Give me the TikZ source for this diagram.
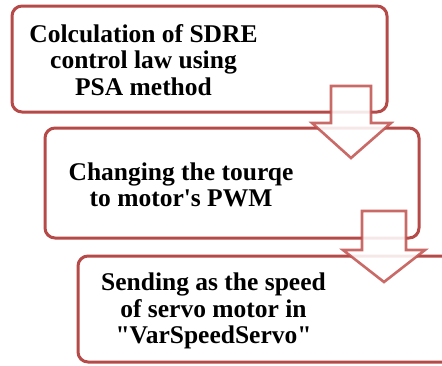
\documentclass[tikz,border=0pt]{standalone}
\usepackage{fontspec}
\setmainfont{Liberation Serif}
\begin{document}
\begin{tikzpicture}[x=1pt,y=-1pt,
  stepbox/.style={draw=boxred, line width=3pt, rounded corners=10pt, fill=white},
  steptext/.style={font=\fontsize{25.5}{26.2}\selectfont\bfseries, align=center, inner sep=0pt},
  flowarrow/.style={draw=arrowred, draw opacity=0.85, line width=2.6pt, fill=white, fill opacity=0.88, line join=miter}]
\definecolor{boxred}{HTML}{B64A48}
\definecolor{arrowred}{HTML}{C0504D}
\useasboundingbox (0,0) rectangle (442,365);

% the three process steps
\draw[stepbox] (12,6) rectangle (387,112);
\node[steptext] (t1) at (143.5,60) {Colculation of SDRE\\control law using\\PSA method};

\draw[stepbox] (45,128) rectangle (419,238);
\node[steptext] (t2) at (181,185) {Changing the tourqe\\to motor\textquotesingle s PWM};

\draw[stepbox] (78,256) rectangle (470,362);
\node[steptext] (t3) at (213.5,311) {Sending as the speed\\of servo motor in\\\textquotedbl VarSpeedServo\textquotedbl};

% block arrows between the steps
\draw[flowarrow] (331,86) -- (371,86) -- (371,123) -- (391,123) -- (351,158)
  -- (312,123) -- (331,123) -- cycle;
\draw[flowarrow] (362,211) -- (406,211) -- (406,250) -- (425,250) -- (384,282)
  -- (343,250) -- (362,250) -- cycle;
\end{tikzpicture}
\end{document}
